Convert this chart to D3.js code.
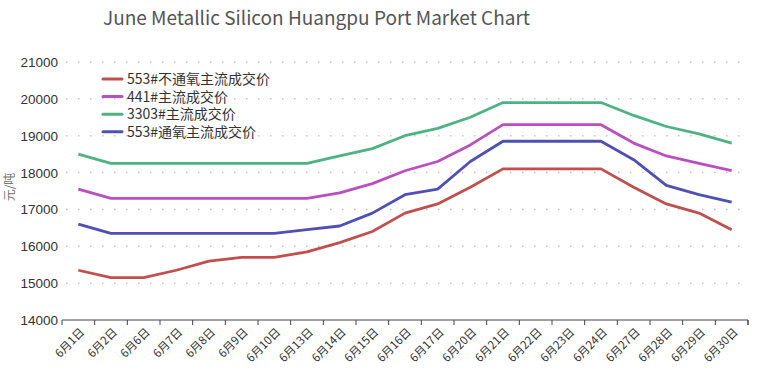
<!DOCTYPE html>
<html>
<head>
<meta charset="utf-8">
<script src="https://cdn.jsdelivr.net/npm/d3@7"></script>
<style>
  body { margin: 0; background: #fff; }
  svg { display: block; }
</style>
</head>
<body>
<svg id="chart" width="760" height="374"></svg>
<script>
// categories (x axis)
const dates = ['6月1日', '6月2日', '6月6日', '6月7日', '6月8日', '6月9日', '6月10日', '6月13日',
  '6月14日', '6月15日', '6月16日', '6月17日', '6月20日', '6月21日', '6月22日', '6月23日',
  '6月24日', '6月27日', '6月28日', '6月29日', '6月30日'];

// series values
const s553NoOxy = [15350, 15150, 15150, 15350, 15600, 15700, 15700, 15850, 16100, 16400, 16900,
  17150, 17600, 18100, 18100, 18100, 18100, 17600, 17150, 16900, 16450];
const s441 = [17550, 17300, 17300, 17300, 17300, 17300, 17300, 17300, 17450, 17700, 18050,
  18300, 18750, 19300, 19300, 19300, 19300, 18800, 18450, 18250, 18050];
const s3303 = [18500, 18250, 18250, 18250, 18250, 18250, 18250, 18250, 18450, 18650, 19000,
  19200, 19500, 19900, 19900, 19900, 19900, 19550, 19250, 19050, 18800];
const s553Oxy = [16600, 16350, 16350, 16350, 16350, 16350, 16350, 16450, 16550, 16900, 17400,
  17550, 18300, 18850, 18850, 18850, 18850, 18350, 17650, 17400, 17200];

const seriesNames = ['553#不通氧主流成交价', '441#主流成交价', '3303#主流成交价', '553#通氧主流成交价'];
const seriesValues = [s553NoOxy, s441, s3303, s553Oxy];
const colors = ['#bf504d', '#b94fc0', '#4eb382', '#4f4fb5'];

const yTicks = [14000, 15000, 16000, 17000, 18000, 19000, 20000, 21000];

const svg = d3.select('#chart');
const plotL = 62, plotR = 748, plotT = 62, plotB = 320;

const x = d3.scaleBand().domain(dates).range([plotL, plotR]);
const y = d3.scaleLinear().domain([14000, 21000]).range([plotB, plotT]);

// title
svg.append('text')
  .attr('x', 103).attr('y', 25)
  .attr('font-family', '"Noto Sans CJK SC", "Noto Sans", sans-serif')
  .attr('font-size', 19)
  .attr('fill', '#555')
  .text('June Metallic Silicon Huangpu Port Market Chart');

// dotted gridlines
svg.append('g')
  .selectAll('line')
  .data(yTicks.slice(1))
  .join('line')
  .attr('x1', plotL + 4).attr('x2', plotR)
  .attr('y1', d => y(d)).attr('y2', d => y(d))
  .attr('stroke', '#c4c4c4')
  .attr('stroke-width', 1.5)
  .attr('stroke-dasharray', '1.5,10.5');

// y tick labels
svg.append('g')
  .selectAll('text')
  .data(yTicks)
  .join('text')
  .attr('x', 58).attr('y', d => y(d) + 5)
  .attr('text-anchor', 'end')
  .attr('font-family', '"Liberation Sans", Arial, sans-serif')
  .attr('font-size', 13.5)
  .attr('fill', '#333')
  .text(d => d);

// y axis title
svg.append('text')
  .attr('transform', 'translate(14,187) rotate(-90)')
  .attr('text-anchor', 'middle')
  .attr('font-family', '"Noto Sans CJK SC", sans-serif')
  .attr('font-size', 12)
  .attr('fill', '#777')
  .text('元/吨');

// x axis
const xAxis = d3.axisBottom(x).tickSize(5).tickFormat('');
const gx = svg.append('g')
  .attr('transform', 'translate(0,' + plotB + ')')
  .call(xAxis);
gx.select('.domain').attr('stroke', '#444').attr('d', 'M' + plotL + ',5V0H' + plotR + 'V5');
// move ticks to band edges
gx.selectAll('.tick').attr('transform', d => 'translate(' + (x(d) + x.bandwidth()) + ',0)');
gx.selectAll('.tick line').attr('stroke', '#444');

svg.append('g')
  .selectAll('text')
  .data(dates)
  .join('text')
  .attr('transform', d => 'translate(' + (x(d) + x.bandwidth() / 2 + 4) + ',' + (plotB + 10) + ') rotate(-45)')
  .attr('text-anchor', 'end')
  .attr('dy', '0.35em')
  .attr('font-family', '"Noto Sans CJK SC", sans-serif')
  .attr('font-size', 11.5)
  .attr('fill', '#333')
  .text(d => d);

// lines
const line = d3.line()
  .x((d, i) => x(dates[i]) + x.bandwidth() / 2)
  .y(d => y(d));

svg.append('g')
  .selectAll('path')
  .data(seriesValues)
  .join('path')
  .attr('d', line)
  .attr('fill', 'none')
  .attr('stroke', (d, i) => colors[i])
  .attr('stroke-width', 2.8)
  .attr('stroke-linejoin', 'round');

// legend
const legend = svg.append('g')
  .selectAll('g')
  .data(seriesNames)
  .join('g')
  .attr('transform', (d, i) => 'translate(103,' + (79 + i * 17.6) + ')');
legend.append('line')
  .attr('x1', 0).attr('x2', 19)
  .attr('stroke', (d, i) => colors[i])
  .attr('stroke-width', 3)
  .attr('stroke-linecap', 'round');
legend.append('text')
  .attr('x', 24).attr('y', 5)
  .attr('font-family', '"Noto Sans CJK SC", sans-serif')
  .attr('font-size', 14)
  .attr('fill', '#333')
  .text(d => d);
</script>
</body>
</html>
